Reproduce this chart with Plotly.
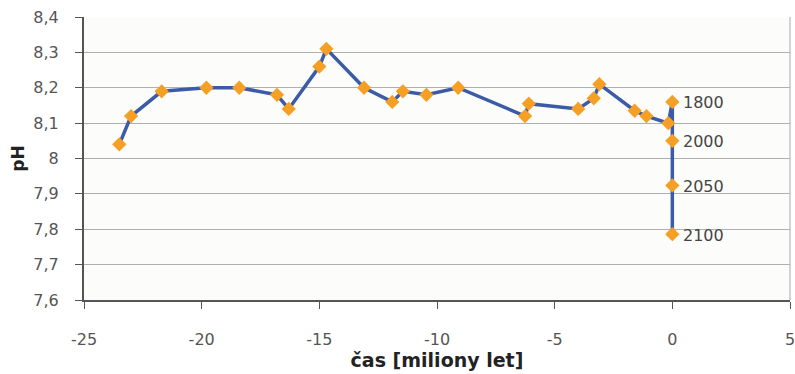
import plotly.graph_objects as go

time_my = [-23.5, -23.0, -21.7, -19.8, -18.4, -16.8, -16.3, -15.0, -14.7, -13.1,
           -11.9, -11.45, -10.45, -9.1, -6.26, -6.1, -4.0, -3.34, -3.1, -1.6,
           -1.1, -0.17, 0.0, 0.0, 0.0, 0.0]
ph = [8.04, 8.12, 8.19, 8.20, 8.20, 8.18, 8.14, 8.26, 8.31, 8.20,
      8.16, 8.19, 8.18, 8.20, 8.12, 8.155, 8.14, 8.17, 8.21, 8.135,
      8.12, 8.10, 8.16, 8.05, 7.924, 7.786]
year_labels = [""] * 22 + ["1800", "2000", "2050", "2100"]

x_ticks = [-25, -20, -15, -10, -5, 0, 5]
y_ticks = [7.6, 7.7, 7.8, 7.9, 8.0, 8.1, 8.2, 8.3, 8.4]
y_tick_text = ["7,6", "7,7", "7,8", "7,9", "8", "8,1", "8,2", "8,3", "8,4"]

tick_font = dict(family="DejaVu Sans", size=16, color="#555555")

fig = go.Figure()
fig.add_trace(go.Scatter(
    x=time_my, y=ph, mode="lines+markers",
    line=dict(color="#3b5ba6", width=3.5),
    marker=dict(symbol="diamond", size=11, color="#f5a024",
                line=dict(width=0)),
    cliponaxis=False,
))
for xv, yv, lab in zip(time_my, ph, year_labels):
    if lab:
        fig.add_annotation(x=xv, y=yv, text=lab, showarrow=False,
                           xanchor="left", yanchor="middle", xshift=9, yshift=-1,
                           font=dict(family="DejaVu Sans", size=16, color="#444444"))

fig.update_layout(
    width=795, height=374,
    margin=dict(l=84, r=5, t=17, b=74),
    paper_bgcolor="white",
    plot_bgcolor="#fcfcfa",
    showlegend=False,
    font=dict(family="DejaVu Sans", size=16, color="#555555"),
)
fig.update_xaxes(
    range=[-25, 5], tickvals=x_ticks, ticktext=[str(v) for v in x_ticks],
    tickfont=tick_font, automargin=False, ticklabeloverflow="allow",
    showgrid=False, zeroline=False,
    showline=True, linecolor="#555555", linewidth=2, mirror=False,
    ticks="outside", ticklen=7, tickcolor="#555555",
    ticklabelstandoff=17,
    title=dict(text="<b>čas [miliony let]</b>", standoff=4,
               font=dict(family="DejaVu Sans", size=19, color="#222222")),
)
fig.update_yaxes(
    range=[7.6, 8.4], tickvals=y_ticks, ticktext=y_tick_text,
    tickfont=tick_font, automargin=False, ticklabeloverflow="allow",
    showgrid=True, gridcolor="#b0b0b0", gridwidth=1.2, zeroline=False,
    showline=True, linecolor="#555555", linewidth=2,
    ticks="outside", ticklen=7, tickcolor="#555555",
    ticklabelstandoff=13,
    title=dict(text="<b>pH</b>", standoff=4,
               font=dict(family="DejaVu Sans", size=17, color="#222222")),
)
# right border of the plot area
fig.add_shape(type="line", xref="paper", yref="paper", x0=1, x1=1, y0=0, y1=1,
              line=dict(color="#aaaaaa", width=1))

fig.write_html("out.html",
               config={"displayModeBar": False},
               post_script="document.body.style.margin='0';"
                           "document.body.style.overflow='hidden';")
